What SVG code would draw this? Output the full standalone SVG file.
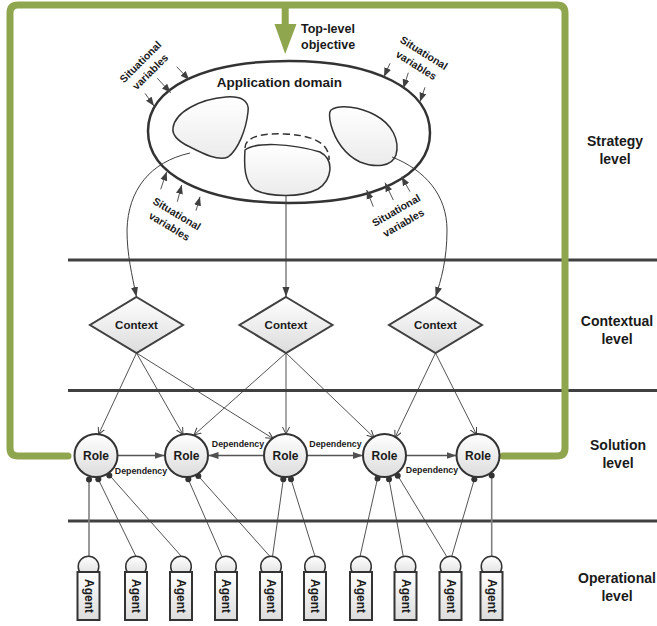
<svg xmlns="http://www.w3.org/2000/svg" width="657" height="626" viewBox="0 0 657 626">
<defs>
<linearGradient id="gf" x1="0" y1="0" x2="0" y2="1"><stop offset="0" stop-color="#ffffff"/><stop offset="1" stop-color="#dcdcdc"/></linearGradient>
<linearGradient id="gb" x1="0" y1="0" x2="0" y2="1"><stop offset="0" stop-color="#ffffff"/><stop offset="1" stop-color="#ebebeb"/></linearGradient>
<marker id="ah" markerUnits="userSpaceOnUse" markerWidth="10" markerHeight="8" refX="10" refY="4" orient="auto"><path d="M0,0.5 L10,4 L0,7.5 z" fill="#404040"/></marker>
<marker id="dp" markerUnits="userSpaceOnUse" markerWidth="10" markerHeight="8" refX="10" refY="4" orient="auto"><path d="M0,0.5 L10,4 L0,7.5 z" fill="#505050"/></marker>
<marker id="sa" markerUnits="userSpaceOnUse" markerWidth="9" markerHeight="8" refX="9" refY="4" orient="auto"><path d="M0,0.5 L9,4 L0,7.5 z" fill="#404040"/></marker>
<marker id="ov" markerUnits="userSpaceOnUse" markerWidth="9" markerHeight="9" refX="7" refY="4" orient="auto"><path d="M0,0.5 L7,4 L0,7.5" fill="none" stroke="#404040" stroke-width="1"/></marker>
<style>
text{font-family:"Liberation Sans",Arial,sans-serif;font-weight:bold;fill:#1a1a1a}
.lvl{font-size:14px;text-anchor:middle}
.svt{font-size:10.5px;text-anchor:middle}
.dep{font-size:8.8px;text-anchor:middle}
.ctx polygon{fill:url(#gf);stroke:#404040;stroke-width:2}
.ctx text{font-size:11.5px;text-anchor:middle}
.role circle{fill:url(#gf);stroke:#333;stroke-width:2}
.role text{font-size:12px;text-anchor:middle}
.agent circle{fill:url(#gf);stroke:#333;stroke-width:1.5}
.agent rect{fill:url(#gf);stroke:#333;stroke-width:2}
.agent text{font-size:12px;text-anchor:middle}
.band{stroke:#404040;stroke-width:3}
.frame{fill:none;stroke:#8fa54e;stroke-width:7;stroke-linecap:round;stroke-linejoin:round}
.blob{fill:url(#gb);stroke:#333;stroke-width:1.5}
.c2ctx{fill:none;stroke:#404040;stroke-width:1;marker-end:url(#ah)}
.c2r{fill:none;stroke:#404040;stroke-width:0.9;marker-end:url(#ov)}
.dl{stroke:#555;stroke-width:1.6;marker-end:url(#dp)}
.sv{stroke:#555;stroke-width:1;marker-end:url(#sa)}
.al{stroke:#404040;stroke-width:0.9}
.alg{stroke:#808080;stroke-width:1.6}
.dot{fill:#333}
</style>
</defs>

<!-- level separators -->
<g id="bands">
<line class="band" x1="68" y1="260" x2="657" y2="260"/>
<line class="band" x1="68" y1="390.5" x2="657" y2="390.5"/>
<line class="band" x1="68" y1="521" x2="657" y2="521"/>
</g>

<!-- green feedback frame -->
<g id="frame">
<path class="frame" d="M 68,456 L 18,456 Q 10,456 10,448 L 10,13 Q 10,5 18,5 L 557,5 Q 565,5 565,13 L 565,448 Q 565,456 557,456 L 503,456"/>
<rect x="281.7" y="4" width="7" height="21" fill="#8fa54e"/>
<polygon points="274.5,24 296.5,24 285.2,54" fill="#8fa54e"/>
<text x="301" y="33" style="font-size:12.5px">Top-level</text>
<text x="301" y="49" style="font-size:12.5px">objective</text>
</g>

<!-- application domain -->
<g id="domain">
<path d="M 148,131 C 148,88 203,61 289,61 C 375,61 430,89 430,133 C 430,176 375,203 289,203 C 203,203 148,174 148,131 Z" fill="#ffffff" stroke="#333" stroke-width="2.5"/>
<text x="279.5" y="87" style="font-size:13.5px;text-anchor:middle">Application domain</text>
</g>
<g id="blob-left"><path class="blob" d="M 173,128 C 175,112 200,99 226,97 C 240,96 250,100 248,112 C 246,130 238,150 228,157 C 218,162 200,152 188,146 C 178,141 172,135 173,128 Z"/></g>
<g id="blob-mid">
<path class="blob" d="M 245,150 C 255,142 290,143 320,152 C 335,160 332,180 318,189 C 300,198 270,197 255,190 C 244,182 244,165 245,150 Z"/>
<path d="M 245,148 C 245,136 265,133 285,134 C 310,135 330,142 329,160" fill="none" stroke="#333" stroke-width="1.5" stroke-dasharray="7,4"/>
</g>
<g id="blob-right"><path class="blob" d="M 331,110 C 340,104 360,107 375,115 C 392,124 400,140 396,155 C 392,167 375,168 360,162 C 345,155 335,140 331,125 C 329,117 329,112 331,110 Z"/></g>

<!-- situational variables -->
<g id="situational">
<line class="sv" x1="145" y1="93.3" x2="154" y2="106"/>
<line class="sv" x1="157.3" y1="78.3" x2="170.7" y2="92.7"/>
<line class="sv" x1="176.7" y1="66.7" x2="189.3" y2="80"/>
<g transform="translate(143,64.5) rotate(-45)"><text class="svt" x="0" y="0">Situational</text><text class="svt" x="0" y="14">variables</text></g>
<line class="sv" x1="390" y1="63.3" x2="384" y2="76.7"/>
<line class="sv" x1="408.3" y1="72.7" x2="403.3" y2="88.3"/>
<line class="sv" x1="425" y1="87.3" x2="420" y2="101.7"/>
<g transform="translate(422,56) rotate(32)"><text class="svt" x="0" y="0">Situational</text><text class="svt" x="0" y="14.5">variables</text></g>
<line class="sv" x1="160.7" y1="189.3" x2="166.7" y2="171.7"/>
<line class="sv" x1="177.3" y1="201.7" x2="181.7" y2="185"/>
<line class="sv" x1="196" y1="210.7" x2="200" y2="196.7"/>
<g transform="translate(175,217) rotate(31)"><text class="svt" x="0" y="0">Situational</text><text class="svt" x="0" y="14.5">variables</text></g>
<line class="sv" x1="373.3" y1="206.7" x2="366.7" y2="190"/>
<line class="sv" x1="393.3" y1="200" x2="385" y2="182.7"/>
<line class="sv" x1="410" y1="191.7" x2="401.7" y2="176.7"/>
<g transform="translate(398,213.5) rotate(-30)"><text class="svt" x="0" y="0">Situational</text><text class="svt" x="0" y="14.5">variables</text></g>
</g>

<!-- connectors -->
<g id="connectors">
<path class="c2ctx" d="M 190,153 C 150,162 128,190 127,230 C 127,255 132,275 136.5,297"/>
<path class="c2ctx" d="M 286,196 L 286,297"/>
<path class="c2ctx" d="M 392,157 C 425,170 447,195 447,230 C 447,260 441,280 435.5,297"/>

<path class="c2r" d="M 136.5,353 L 98.5,434.5"/>
<path class="c2r" d="M 136.5,353 L 183,434.5"/>
<path class="c2r" d="M 136.5,353 L 273,438.5"/>
<path class="c2r" d="M 286,353 L 194,435"/>
<path class="c2r" d="M 286,353 L 286,434"/>
<path class="c2r" d="M 286,353 L 374,437.5"/>
<path class="c2r" d="M 435.5,353 L 395,437.5"/>
<path class="c2r" d="M 435.5,353 L 476.5,434.5"/>

<line class="dl" x1="118" y1="455.5" x2="164.5" y2="455.5"/>
<line class="dl" x1="264" y1="455.5" x2="208.5" y2="455.5"/>
<line class="dl" x1="307" y1="455.5" x2="363" y2="455.5"/>
<line class="dl" x1="406" y1="455.5" x2="456.5" y2="455.5"/>
<text class="dep" x="141" y="473.5">Dependency</text>
<text class="dep" x="238" y="447">Dependency</text>
<text class="dep" x="335.5" y="447">Dependency</text>
<text class="dep" x="432" y="473">Dependency</text>

<line class="alg" x1="89" y1="479.5" x2="89" y2="556.5"/>
<line class="al" x1="98.3" y1="479.3" x2="136" y2="556.5"/>
<line class="al" x1="109.3" y1="475" x2="181.5" y2="556.5"/>
<line class="al" x1="188.3" y1="479.3" x2="222" y2="556.5"/>
<line class="al" x1="198.3" y1="476" x2="270" y2="556.5"/>
<line class="al" x1="283.3" y1="479.3" x2="272.5" y2="556.5"/>
<line class="al" x1="291" y1="479.3" x2="315" y2="556.5"/>
<line class="al" x1="377.5" y1="478.5" x2="360" y2="556.5"/>
<line class="al" x1="389" y1="479.3" x2="403.3" y2="556.5"/>
<line class="al" x1="397.7" y1="475.5" x2="446.7" y2="556.5"/>
<line class="al" x1="474.3" y1="479.3" x2="451.7" y2="556.5"/>
<line class="alg" x1="491.7" y1="475" x2="491.7" y2="556.5"/>
<circle class="dot" cx="89" cy="479.5" r="3"/>
<circle class="dot" cx="98.3" cy="479.3" r="3"/>
<circle class="dot" cx="109.3" cy="475.5" r="3"/>
<circle class="dot" cx="188.3" cy="479.3" r="3"/>
<circle class="dot" cx="198.3" cy="476" r="3"/>
<circle class="dot" cx="283.3" cy="479.3" r="3"/>
<circle class="dot" cx="291" cy="479.3" r="3"/>
<circle class="dot" cx="377.5" cy="478.5" r="3"/>
<circle class="dot" cx="389" cy="479.3" r="3"/>
<circle class="dot" cx="397.7" cy="475.7" r="3"/>
<circle class="dot" cx="474.3" cy="479.3" r="3"/>
<circle class="dot" cx="491.7" cy="475.5" r="3"/>
</g>

<!-- contexts -->
<g id="context1" class="ctx"><polygon points="136.5,297 183,325 136.5,353 90,325"/><text x="136.5" y="329">Context</text></g>
<g id="context2" class="ctx"><polygon points="286,297 332.5,325 286,353 239.5,325"/><text x="286" y="329">Context</text></g>
<g id="context3" class="ctx"><polygon points="435.5,297 482,325 435.5,353 389,325"/><text x="435.5" y="329">Context</text></g>

<!-- roles -->
<g id="role1" class="role"><circle cx="96" cy="455.5" r="21.5"/><text x="96" y="460">Role</text></g>
<g id="role2" class="role"><circle cx="186.5" cy="455.5" r="21.5"/><text x="186.5" y="460">Role</text></g>
<g id="role3" class="role"><circle cx="285.5" cy="455.5" r="21.5"/><text x="285.5" y="460">Role</text></g>
<g id="role4" class="role"><circle cx="384.5" cy="455.5" r="21.5"/><text x="384.5" y="460">Role</text></g>
<g id="role5" class="role"><circle cx="478" cy="455.5" r="21.5"/><text x="478" y="460">Role</text></g>

<!-- agents -->
<g id="agent1" class="agent"><circle cx="88.5" cy="566.5" r="10.3"/><rect x="77.5" y="572" width="22" height="48"/><text transform="translate(88.5,596) rotate(90)" y="4">Agent</text></g>
<g id="agent2" class="agent"><circle cx="136" cy="566.5" r="10.3"/><rect x="125" y="572" width="22" height="48"/><text transform="translate(136,596) rotate(90)" y="4">Agent</text></g>
<g id="agent3" class="agent"><circle cx="181" cy="566.5" r="10.3"/><rect x="170" y="572" width="22" height="48"/><text transform="translate(181,596) rotate(90)" y="4">Agent</text></g>
<g id="agent4" class="agent"><circle cx="226" cy="566.5" r="10.3"/><rect x="215" y="572" width="22" height="48"/><text transform="translate(226,596) rotate(90)" y="4">Agent</text></g>
<g id="agent5" class="agent"><circle cx="271" cy="566.5" r="10.3"/><rect x="260" y="572" width="22" height="48"/><text transform="translate(271,596) rotate(90)" y="4">Agent</text></g>
<g id="agent6" class="agent"><circle cx="315" cy="566.5" r="10.3"/><rect x="304" y="572" width="22" height="48"/><text transform="translate(315,596) rotate(90)" y="4">Agent</text></g>
<g id="agent7" class="agent"><circle cx="361" cy="566.5" r="10.3"/><rect x="350" y="572" width="22" height="48"/><text transform="translate(361,596) rotate(90)" y="4">Agent</text></g>
<g id="agent8" class="agent"><circle cx="405.5" cy="566.5" r="10.3"/><rect x="394.5" y="572" width="22" height="48"/><text transform="translate(405.5,596) rotate(90)" y="4">Agent</text></g>
<g id="agent9" class="agent"><circle cx="450.5" cy="566.5" r="10.3"/><rect x="439.5" y="572" width="22" height="48"/><text transform="translate(450.5,596) rotate(90)" y="4">Agent</text></g>
<g id="agent10" class="agent"><circle cx="491.5" cy="566.5" r="10.3"/><rect x="480.5" y="572" width="22" height="48"/><text transform="translate(491.5,596) rotate(90)" y="4">Agent</text></g>

<!-- level labels -->
<g id="levels">
<text class="lvl" x="615" y="146">Strategy</text><text class="lvl" x="615" y="164">level</text>
<text class="lvl" x="617" y="326">Contextual</text><text class="lvl" x="617" y="344">level</text>
<text class="lvl" x="618" y="450">Solution</text><text class="lvl" x="618" y="468">level</text>
<text class="lvl" x="617" y="583">Operational</text><text class="lvl" x="617" y="601">level</text>
</g>
</svg>
